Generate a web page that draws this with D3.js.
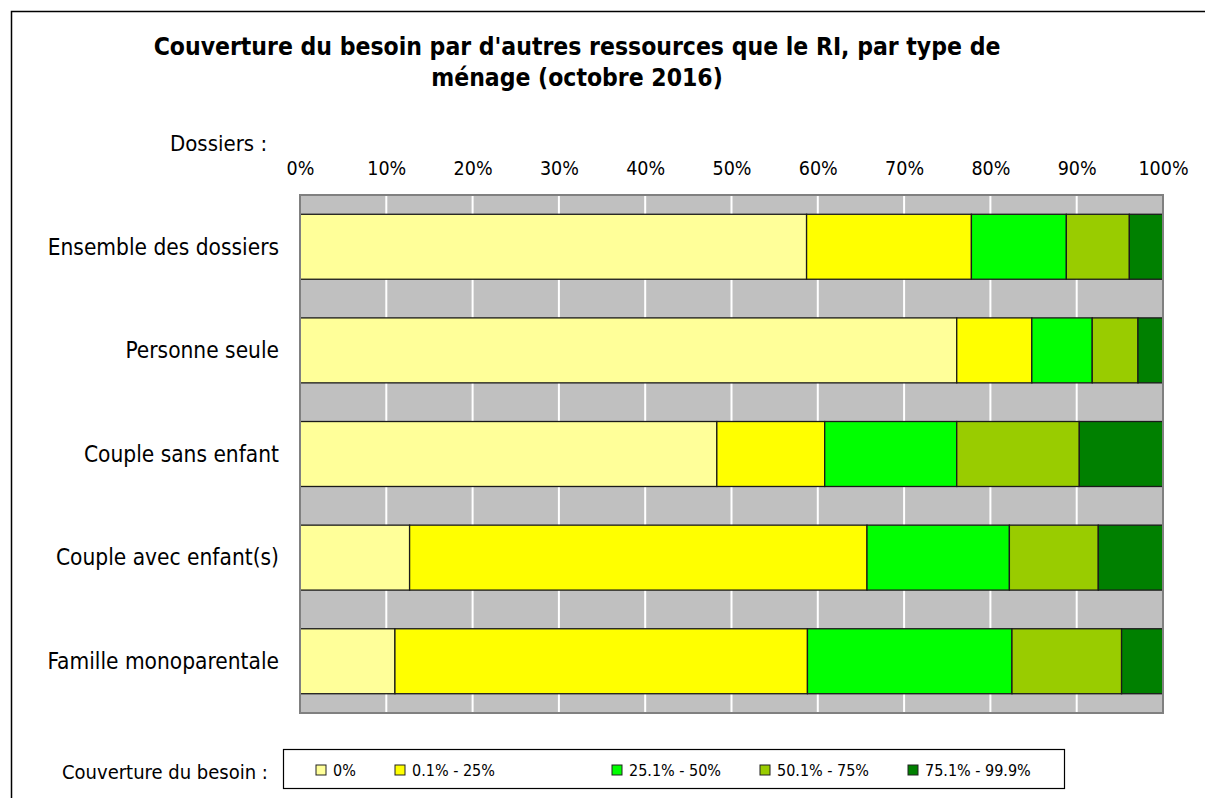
<!DOCTYPE html>
<html>
<head>
<meta charset="utf-8">
<script src="https://cdn.jsdelivr.net/npm/d3@7"></script>
<style>
  body { margin: 0; background: white; }
  svg text { font-family: "DejaVu Sans Condensed", "DejaVu Sans", sans-serif; fill: black; }
</style>
</head>
<body>
<div id="chart"></div>
<script>
var categories = ["Ensemble des dossiers", "Personne seule", "Couple sans enfant", "Couple avec enfant(s)", "Famille monoparentale"];
var series = ["0%", "0.1% - 25%", "25.1% - 50%", "50.1% - 75%", "75.1% - 99.9%"];
var colors = ["#FFFF99", "#FFFF00", "#00FF00", "#99CC00", "#008000"];
// share of each class, per category (in %)
var v_0   = [58.7, 76.1, 48.3, 12.7, 11.0];
var v_25  = [19.1,  8.7, 12.5, 53.0, 47.8];
var v_50  = [11.0,  7.0, 15.3, 16.5, 23.7];
var v_75  = [ 7.3,  5.3, 14.2, 10.3, 12.7];
var v_100 = [ 3.9,  2.9,  9.7,  7.5,  4.8];
var ticks = [0, 10, 20, 30, 40, 50, 60, 70, 80, 90, 100];

var margin = {top: 195, left: 300, right: 42, bottom: 85};
var W = 1205, H = 798;
var plot_w = W - margin.left - margin.right;
var plot_h = H - margin.top - margin.bottom;

var svg = d3.select("#chart").append("svg")
            .attr("width", W)
            .attr("height", H);

// outer frame
svg.append("rect")
   .attr("x", 11.5).attr("y", 11.5)
   .attr("width", 1200).attr("height", 800)
   .attr("fill", "none")
   .attr("stroke", "black")
   .attr("stroke-width", 1.5);

// title
svg.append("text")
   .attr("x", 577).attr("y", 55)
   .attr("text-anchor", "middle")
   .style("font-size", "24.5px").style("font-weight", "bold")
   .text("Couverture du besoin par d'autres ressources que le RI, par type de");
svg.append("text")
   .attr("x", 577).attr("y", 86)
   .attr("text-anchor", "middle")
   .style("font-size", "24.5px").style("font-weight", "bold")
   .text("ménage (octobre 2016)");

svg.append("text")
   .attr("x", 170).attr("y", 151)
   .style("font-size", "22px")
   .text("Dossiers :");

var xscale = d3.scaleLinear().domain([0, 100]).range([0, plot_w]);
var yscale = d3.scaleBand()
               .domain(categories)
               .range([0, plot_h])
               .paddingInner(0.373)
               .paddingOuter(0.186);

var g = svg.append("g")
           .attr("transform", "translate(" + margin.left + "," + margin.top + ")");

// plot background
g.append("rect")
 .attr("width", plot_w).attr("height", plot_h)
 .attr("fill", "#C0C0C0");

// gridlines
g.selectAll(".grid")
 .data(ticks.slice(1, -1))
 .enter()
 .append("line")
 .attr("class", "grid")
 .attr("x1", function(d) { return xscale(d); })
 .attr("x2", function(d) { return xscale(d); })
 .attr("y1", 0).attr("y2", plot_h)
 .attr("stroke", "white")
 .attr("stroke-width", 2);

// top axis
var xaxis = d3.axisTop()
              .scale(xscale)
              .tickValues(ticks)
              .tickSize(0)
              .tickPadding(20)
              .tickFormat(function(d) { return d + "%"; });
var gx = g.append("g").call(xaxis);
gx.select(".domain").remove();
gx.selectAll("text").style("font-size", "19.5px").attr("fill", "black");

// stacked bars
var stack_data = categories.map(function(c, i) {
    return {cat: c, vals: [v_0[i], v_25[i], v_50[i], v_75[i], v_100[i]]};
});
var keys = d3.range(series.length);
var stacked = d3.stack()
                .keys(keys)
                .value(function(d, k) { return d.vals[k]; })(stack_data);

g.selectAll(".layer")
 .data(stacked)
 .enter()
 .append("g")
 .attr("class", "layer")
 .attr("fill", function(d) { return colors[d.key]; })
 .selectAll("rect")
 .data(function(d) { return d; })
 .enter()
 .append("rect")
 .attr("x", function(d) { return xscale(d[0]); })
 .attr("y", function(d) { return yscale(d.data.cat); })
 .attr("width", function(d) { return xscale(d[1]) - xscale(d[0]); })
 .attr("height", yscale.bandwidth())
 .attr("stroke", "#1a1a1a")
 .attr("stroke-width", 1.3);

// plot border
g.append("rect")
 .attr("width", plot_w).attr("height", plot_h)
 .attr("fill", "none")
 .attr("stroke", "#808080")
 .attr("stroke-width", 2);

// category labels
g.selectAll(".cat")
 .data(categories)
 .enter()
 .append("text")
 .attr("class", "cat")
 .attr("x", -21)
 .attr("y", function(d) { return yscale(d) + yscale.bandwidth() / 2; })
 .attr("dy", "0.35em")
 .attr("text-anchor", "end")
 .style("font-size", "22.5px")
 .text(function(d) { return d; });

// legend
svg.append("text")
   .attr("x", 62).attr("y", 779)
   .style("font-size", "20px")
   .text("Couverture du besoin :");

svg.append("rect")
   .attr("x", 283.5).attr("y", 749.5)
   .attr("width", 781).attr("height", 39)
   .attr("fill", "white")
   .attr("stroke", "black")
   .attr("stroke-width", 1.2);

var legend_x = [316, 395, 612, 760, 908];
var items = svg.selectAll(".leg")
               .data(series)
               .enter()
               .append("g")
               .attr("class", "leg")
               .attr("transform", function(d, i) { return "translate(" + legend_x[i] + ",770)"; });
items.append("rect")
     .attr("x", 0).attr("y", -5)
     .attr("width", 10).attr("height", 10)
     .attr("fill", function(d, i) { return colors[i]; })
     .attr("stroke", "#222")
     .attr("stroke-width", 1);
items.append("text")
     .attr("x", 17).attr("y", 0)
     .attr("dy", "0.35em")
     .style("font-size", "16px")
     .text(function(d) { return d; });
</script>
</body>
</html>
